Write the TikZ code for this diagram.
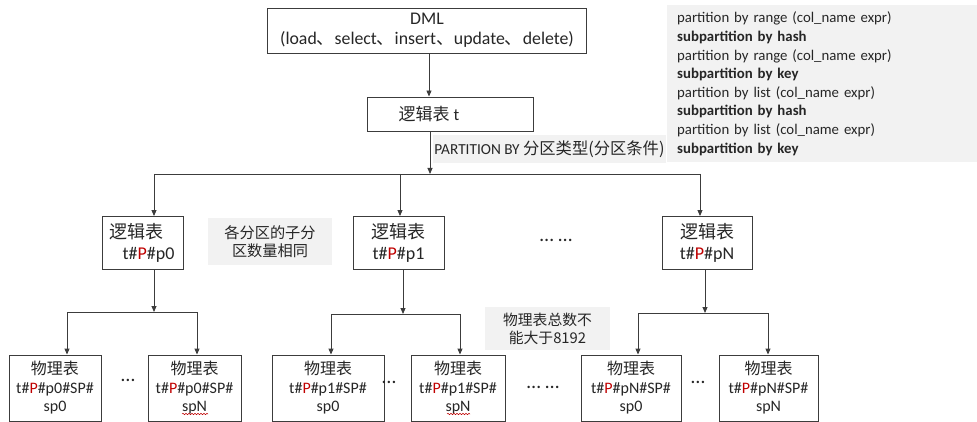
\documentclass[tikz,border=0pt]{standalone}
\usepackage{fontspec}
\setmainfont{Carlito}
\newfontfamily\cjk{Noto Sans CJK SC}
\usetikzlibrary{arrows.meta,decorations.pathmorphing}
\definecolor{ink}{HTML}{262626}
\definecolor{edge}{HTML}{3C3C3C}
\definecolor{shade}{HTML}{F2F2F2}
\definecolor{hilite}{HTML}{C00000}
\newcommand\zh[1]{{\cjk #1}}
\newcommand\redP{\textcolor{hilite}{P}}

\begin{document}
\begin{tikzpicture}[x=1pt,y=-1pt,
  box/.style={draw=edge, line width=0.9pt, fill=white, text=ink, align=center, inner sep=0pt},
  tag/.style={fill=shade, text=ink, align=center, inner sep=0pt},
  plain/.style={text=ink, inner sep=0pt},
  wire/.style={draw=edge, line width=0.9pt},
  arr/.style={wire, -{Triangle[length=6pt,width=5pt]}},
  squiggle/.style={draw=hilite, line width=0.5pt, decorate,
    decoration={snake, amplitude=0.7pt, segment length=3pt}},
  midbox/.style={box, minimum width=#1, minimum height=53pt, font=\fontsize{18}{21}\selectfont},
  leafbox/.style={box, minimum width=#1, minimum height=66pt, font=\fontsize{16}{18.5}\selectfont},
  dotfont/.style={plain, font=\fontsize{20}{20}\selectfont},
]
\useasboundingbox (0,0) rectangle (977,422);

% ---- top: statement and logical table
\node[box, minimum width=319pt, minimum height=45pt, font=\fontsize{17.8}{20}\selectfont]
  (dml) at (427,30.5) {DML\\(load\zh{、}select\zh{、}insert\zh{、}update\zh{、}delete)};
\node[box, minimum width=166pt, minimum height=34pt] (t) at (450,114) {};
\node[plain, font=\fontsize{17}{20}\selectfont] (tname) at (429,114) {\zh{逻辑表} t};

% ---- notes with shaded background
\node[tag, anchor=north west, text width=290pt, inner xsep=10pt, minimum height=157pt,
  align=left, font=\fontsize{14.8}{18.6}\selectfont] (syntax) at (667,5)
  {partition by range (col\_name expr)\\
   \textbf{subpartition by hash}\\
   partition by range (col\_name expr)\\
   \textbf{subpartition by key}\\
   partition by list (col\_name expr)\\
   \textbf{subpartition by hash}\\
   partition by list (col\_name expr)\\
   \textbf{subpartition by key}};
\node[tag, minimum width=233pt, minimum height=28pt, font=\fontsize{15.3}{17}\selectfont]
  (ptype) at (549.5,149) {PARTITION BY \zh{\fontsize{16.3}{17}\selectfont 分区类型(分区条件)}};
\node[tag, minimum width=124pt, minimum height=47pt, font=\fontsize{15.2}{18.5}\selectfont]
  (same) at (270,241.5) {\zh{各分区的子分}\\\zh{区数量相同}};
\node[tag, minimum width=125pt, minimum height=43pt, font=\fontsize{14.8}{18}\selectfont]
  (limit) at (547.5,328.5) {\zh{物理表总数不}\\\zh{能大于8192}};

% ---- partitions
\node[midbox=81pt]  (l0) at (142.5,243) {\zh{逻辑表}\hspace*{12pt}\\\hspace*{12pt}t\#\redP\#p0};
\node[midbox=91pt]  (l1) at (398.5,243) {\zh{逻辑表}\\t\#\redP\#p1};
\node[midbox=90pt]  (lN) at (707,243)   {\zh{逻辑表}\\t\#\redP\#pN};
\node[dotfont] (middots) at (556,240) {… …};

% ---- subpartitions (physical tables)
\node[leafbox=92pt]  (p0a) at (55,388)    {\zh{物理表}\\t\#\redP\#p0\#SP\#\\sp0};
\node[leafbox=93pt]  (p0b) at (194.5,388) {\zh{物理表}\\t\#\redP\#p0\#SP\#\\spN};
\node[leafbox=112pt] (p1a) at (328,388)   {\zh{物理表}\\t\#\redP\#p1\#SP\#\\sp0};
\node[leafbox=94pt]  (p1b) at (458,388)   {\zh{物理表}\\t\#\redP\#p1\#SP\#\\spN};
\node[leafbox=100pt] (pNa) at (631,388)   {\zh{物理表}\\t\#\redP\#pN\#SP\#\\sp0};
\node[leafbox=99pt]  (pNb) at (768.5,388) {\zh{物理表}\\t\#\redP\#pN\#SP\#\\spN};
\node[dotfont] (dots0) at (128,380) {…};
\node[dotfont] (dots1) at (389,382) {…};
\node[dotfont] (dotsN) at (698,382) {…};
\node[dotfont] (dotsM) at (543,387) {… …};

% spell-check marks under spN
\draw[squiggle] ([xshift=-12.5pt,yshift=-26pt]p0b.center) -- ([xshift=13.5pt,yshift=-26pt]p0b.center);
\draw[squiggle] ([xshift=-11pt,yshift=-26pt]p1b.center) -- ([xshift=12pt,yshift=-26pt]p1b.center);

% ---- connectors
\draw[arr] ([xshift=2pt]dml.south) -- ([xshift=-21pt]t.north);

\coordinate (tb) at (430,174);
\coordinate (b0) at (154,174);
\coordinate (b1) at (400,174);
\coordinate (bN) at (700,174);
\draw[arr] ([xshift=-20pt]t.south) -- (tb);
\draw[wire] (b0) -- (bN);
\draw[arr] (b0) -- ([xshift=11.5pt]l0.north);
\draw[arr] (b1) -- ([xshift=1.5pt]l1.north);
\draw[arr] (bN) -- ([xshift=-7pt]lN.north);

\coordinate (c0) at (154,312);
\coordinate (c0a) at (67,312);
\coordinate (c0b) at (197,312);
\draw[arr] ([xshift=11.5pt]l0.south) -- (c0);
\draw[wire] (c0a) -- (c0b);
\draw[arr] (c0a) -- ([xshift=12pt]p0a.north);
\draw[arr] (c0b) -- ([xshift=2.5pt]p0b.north);

\coordinate (c1) at (403,314);
\coordinate (c1a) at (331,314);
\coordinate (c1b) at (460,314);
\draw[arr] ([xshift=4.5pt]l1.south) -- (c1);
\draw[wire] (c1a) -- (c1b);
\draw[arr] (c1a) -- ([xshift=3pt]p1a.north);
\draw[arr] (c1b) -- ([xshift=2pt]p1b.north);

\coordinate (cN) at (705,313);
\coordinate (cNa) at (638,313);
\coordinate (cNb) at (768,313);
\draw[arr] ([xshift=-2pt]lN.south) -- (cN);
\draw[wire] (cNa) -- (cNb);
\draw[arr] (cNa) -- ([xshift=7pt]pNa.north);
\draw[arr] (cNb) -- ([xshift=-0.5pt]pNb.north);
\end{tikzpicture}
\end{document}
